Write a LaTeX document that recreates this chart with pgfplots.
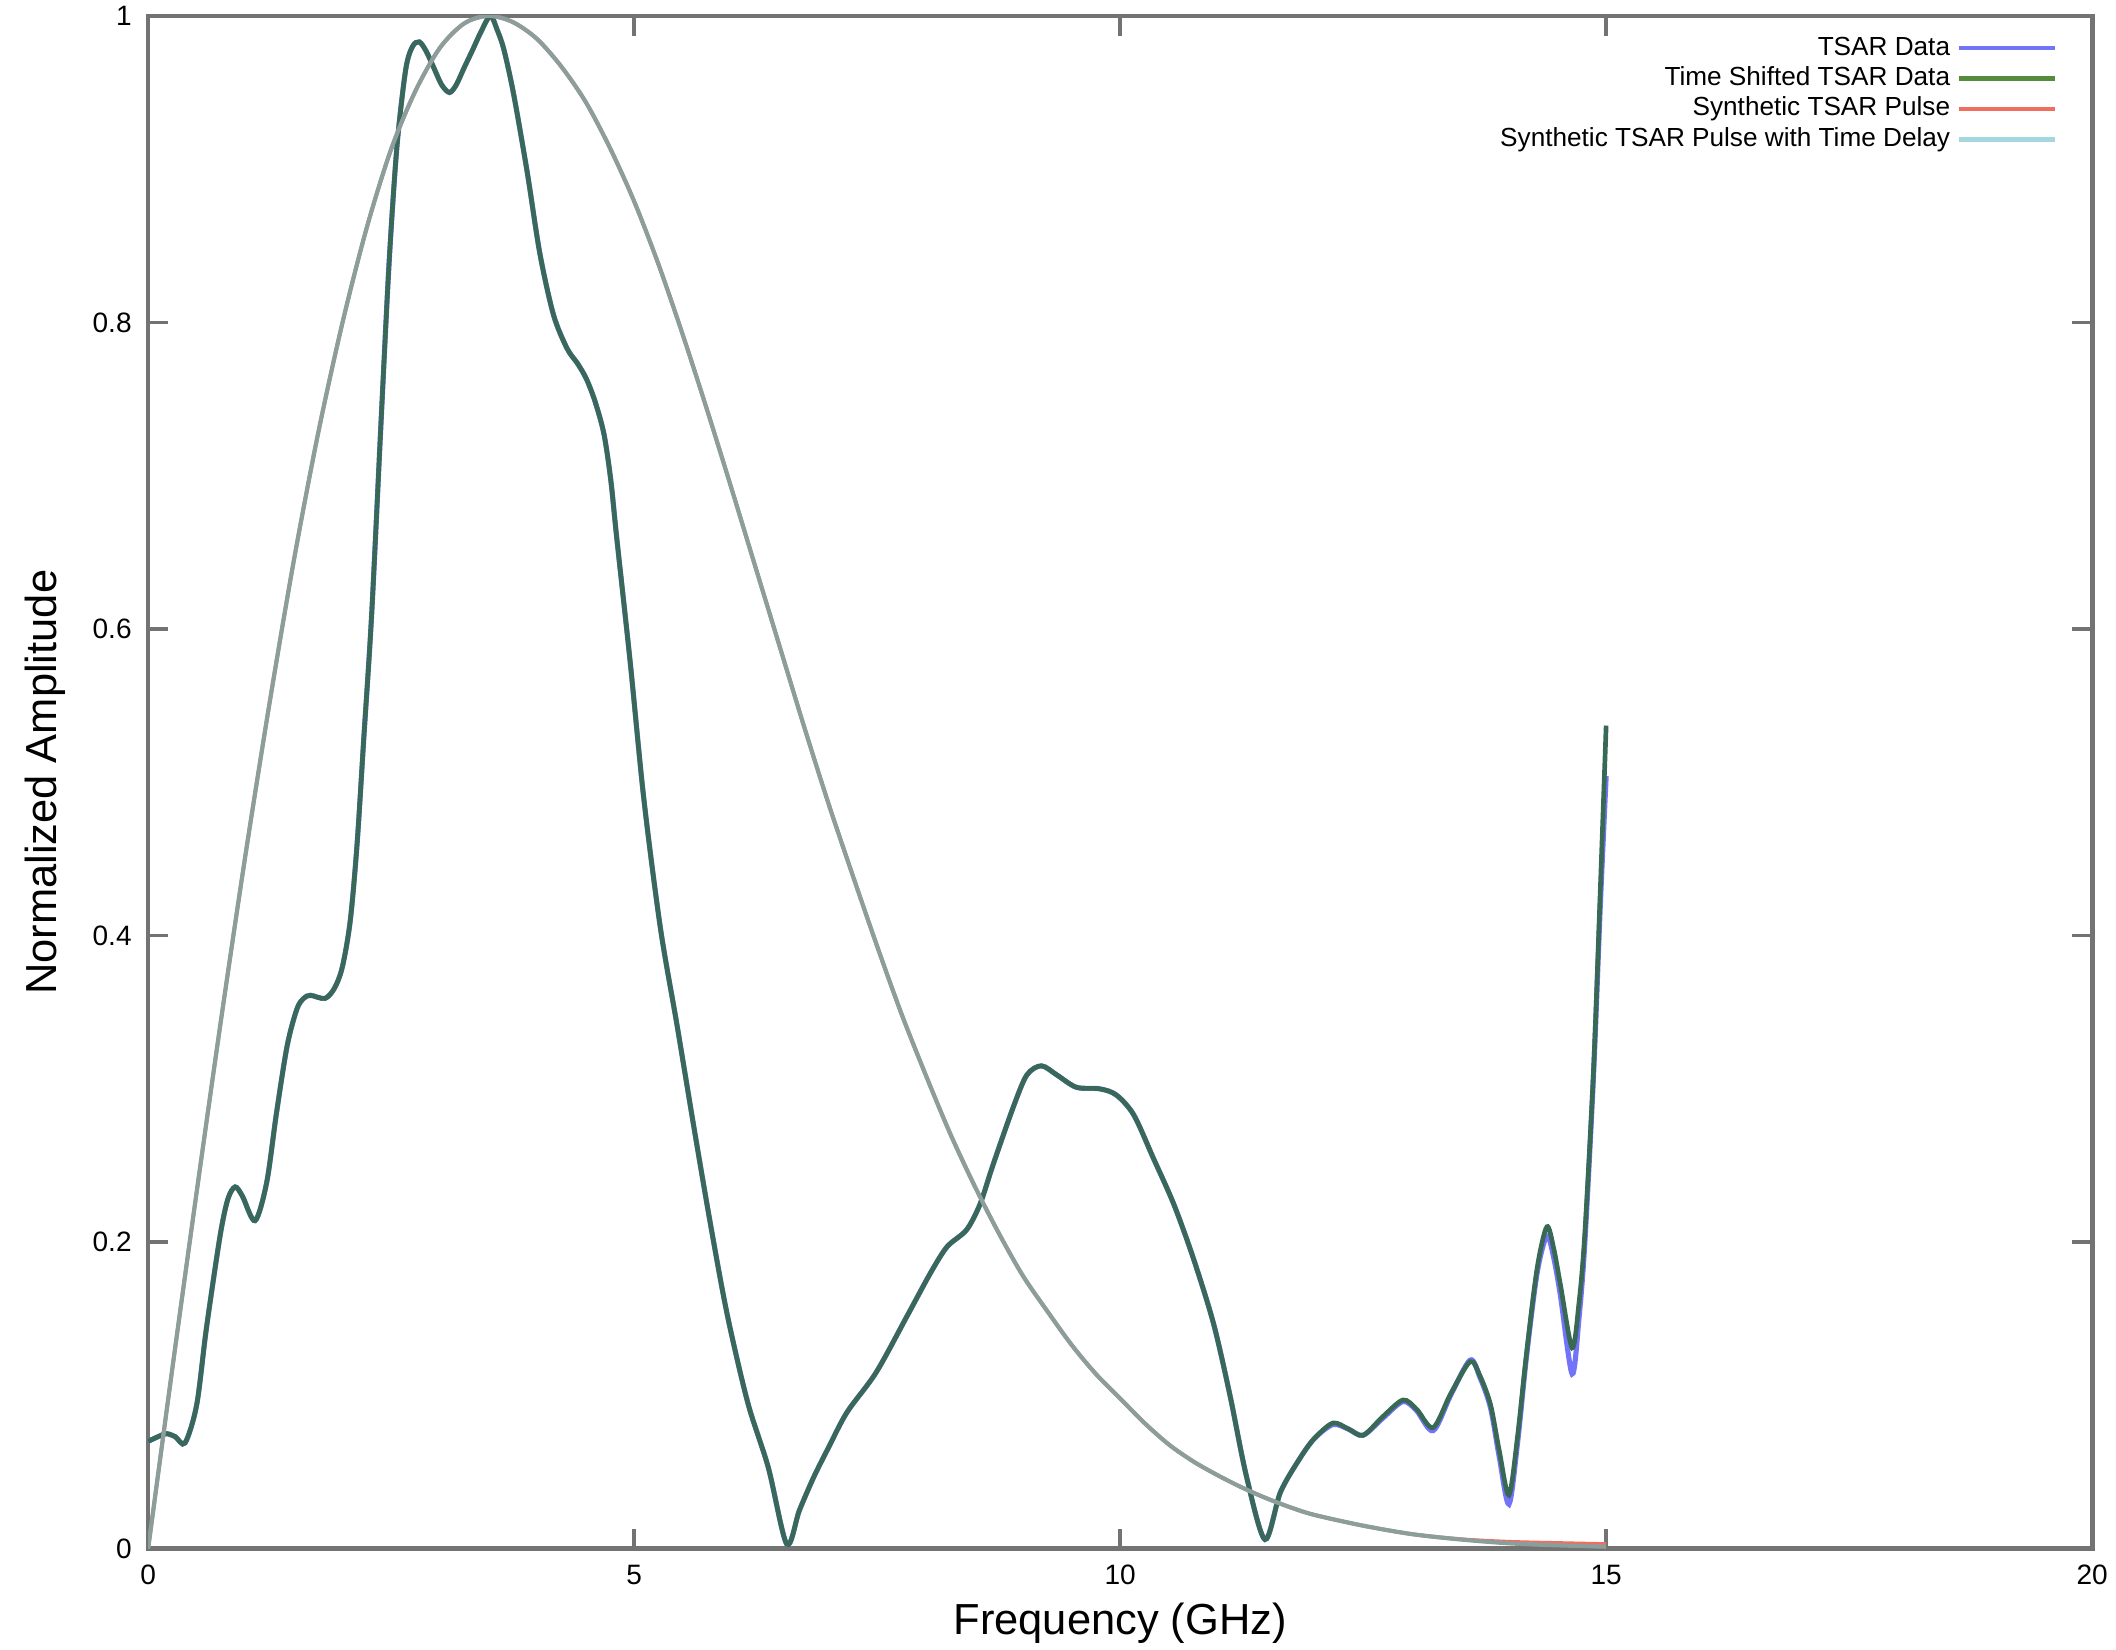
\documentclass[border=0pt]{standalone}
\usepackage{fontspec}
\setmainfont{Liberation Sans}
\usepackage{pgfplots}
\usepackage{pgfplotstable}
\pgfplotsset{compat=1.18}

\definecolor{tsarblue}{RGB}{115,115,250}
\definecolor{tsargreen}{RGB}{85,140,60}
\definecolor{synred}{RGB}{240,110,95}
\definecolor{syncyan}{RGB}{165,215,225}
\definecolor{datadraw}{RGB}{55,105,85}
\definecolor{pulsedraw}{RGB}{140,158,155}
\definecolor{frame}{RGB}{115,115,115}

% frequency (GHz), TSAR data, time shifted TSAR data
\pgfplotstableread{
f      tsar   shifted
0      0.070  0.070
0.10   0.073  0.073
0.19   0.075  0.075
0.28   0.073  0.073
0.38   0.069  0.069
0.50   0.094  0.094
0.60   0.144  0.144
0.74   0.204  0.204
0.82   0.228  0.228
0.895  0.236  0.236
0.97   0.230  0.230
1.10   0.214  0.214
1.22   0.239  0.239
1.32   0.284  0.284
1.43   0.328  0.328
1.53   0.352  0.352
1.60   0.359  0.359
1.67   0.361  0.361
1.82   0.359  0.359
1.92   0.366  0.366
2.00   0.380  0.380
2.08   0.410  0.410
2.15   0.460  0.460
2.22   0.530  0.530
2.30   0.610  0.610
2.40   0.740  0.740
2.48   0.840  0.840
2.56   0.915  0.915
2.65   0.965  0.965
2.72   0.980  0.980
2.79   0.983  0.983
2.86   0.977  0.977
2.94   0.966  0.966
3.02   0.955  0.955
3.10   0.950  0.950
3.17   0.955  0.955
3.25   0.966  0.966
3.34   0.978  0.978
3.42   0.989  0.989
3.52   1.000  1.000
3.59   0.991  0.991
3.66   0.978  0.978
3.76   0.949  0.949
3.90   0.898  0.898
4.03   0.845  0.845
4.17   0.805  0.805
4.31   0.783  0.783
4.42   0.773  0.773
4.51   0.763  0.763
4.60   0.748  0.748
4.69   0.727  0.727
4.76   0.697  0.697
4.82   0.660  0.660
4.96   0.578  0.578
5.10   0.489  0.489
5.27   0.405  0.405
5.44   0.342  0.342
5.62   0.273  0.273
5.79   0.210  0.210
5.96   0.152  0.152
6.17   0.095  0.095
6.38   0.053  0.053
6.57   0.003  0.003
6.70   0.025  0.025
6.85   0.047  0.047
7.00   0.066  0.066
7.19   0.089  0.089
7.49   0.115  0.115
7.81   0.152  0.152
8.05   0.180  0.180
8.22   0.197  0.197
8.42   0.208  0.208
8.56   0.225  0.225
8.69   0.250  0.250
8.90   0.288  0.288
9.04   0.309  0.309
9.19   0.315  0.315
9.35   0.309  0.309
9.55   0.301  0.301
9.79   0.300  0.300
9.96   0.296  0.296
10.14  0.283  0.283
10.34  0.255  0.255
10.55  0.225  0.225
10.75  0.190  0.190
10.96  0.147  0.147
11.13  0.100  0.100
11.30  0.047  0.047
11.49  0.006  0.006
11.65  0.037  0.037
11.85  0.059  0.059
12.00  0.072  0.072
12.19  0.081  0.082
12.35  0.078  0.078
12.50  0.074  0.074
12.70  0.085  0.086
12.91  0.096  0.097
13.05  0.090  0.091
13.22  0.077  0.079
13.40  0.100  0.101
13.60  0.123  0.122
13.70  0.112  0.113
13.81  0.092  0.094
13.90  0.060  0.064
14.00  0.029  0.035
14.09  0.070  0.074
14.18  0.125  0.127
14.29  0.180  0.183
14.39  0.204  0.210
14.46  0.190  0.196
14.53  0.165  0.172
14.65  0.114  0.131
14.72  0.150  0.160
14.78  0.199  0.205
14.87  0.309  0.312
14.94  0.420  0.430
15.00  0.504  0.537
}\tsartable

% frequency (GHz), synthetic pulse, synthetic pulse with time delay
\pgfplotstableread{
f      pulse   delayed
0      0.000   0.000
0.25   0.118   0.118
0.50   0.233   0.233
0.75   0.345   0.345
1.00   0.452   0.452
1.25   0.552   0.552
1.50   0.645   0.645
1.75   0.728   0.728
2.00   0.800   0.800
2.25   0.862   0.862
2.50   0.913   0.913
2.75   0.951   0.951
3.00   0.979   0.979
3.25   0.995   0.995
3.50   1.000   1.000
3.75   0.996   0.996
4.00   0.985   0.985
4.25   0.967   0.967
4.50   0.944   0.944
4.75   0.914   0.914
5.00   0.879   0.879
5.25   0.838   0.838
5.50   0.792   0.792
5.75   0.743   0.743
6.00   0.692   0.692
6.25   0.640   0.640
6.50   0.588   0.588
6.75   0.536   0.536
7.00   0.486   0.486
7.25   0.439   0.439
7.50   0.393   0.393
7.75   0.349   0.349
8.00   0.309   0.309
8.25   0.271   0.271
8.50   0.237   0.237
8.75   0.206   0.206
9.00   0.178   0.178
9.25   0.155   0.155
9.50   0.133   0.133
9.75   0.114   0.114
10.00  0.098   0.098
10.25  0.082   0.082
10.50  0.068   0.068
10.75  0.057   0.057
11.00  0.048   0.048
11.25  0.040   0.040
11.50  0.033   0.033
11.75  0.027   0.027
12.00  0.022   0.022
12.50  0.015   0.015
13.00  0.0095  0.0095
13.50  0.0062  0.0060
14.00  0.0045  0.0035
14.50  0.0037  0.0022
15.00  0.0030  0.0013
}\pulsetable

\begin{document}
\begin{tikzpicture}
\begin{axis}[
  scale only axis,
  width=416pt, height=328pt,
  xmin=0, xmax=20, ymin=0, ymax=1,
  xtick={0,5,10,15,20},
  ytick={0,0.2,0.4,0.6,0.8,1},
  yticklabels={0,0.2,0.4,0.6,0.8,1},
  tick align=inside,
  major tick length=4.3pt,
  tick style={frame, line width=0.8pt},
  axis line style={frame, line width=1pt},
  ticklabel style={font=\fontsize{6}{7}\selectfont},
  /pgf/number format/assume math mode=true,
  xlabel={Frequency (GHz)},
  ylabel={Normalized Amplitude},
  label style={font=\fontsize{9.3}{11}\selectfont},
  xlabel style={at={(axis description cs:0.5,0)}, anchor=center, yshift=-16pt},
  ylabel style={at={(axis description cs:0,0.5)}, anchor=center, yshift=22pt},
  legend plot pos=right,
  legend cell align=right,
  legend image code/.code={\draw[#1] (0pt,0pt) -- (20.5pt,0pt);},
  legend style={at={(axis description cs:1,1)}, anchor=north east,
    xshift=-7.5pt, yshift=-4.2pt, draw=none, fill=none,
    inner sep=0pt, outer sep=0pt,
    font=\fontsize{5.6}{6.5}\selectfont,
    nodes={inner sep=0pt, text height=4.2pt, text depth=1.2pt},
    row sep=1.1pt, column sep=1.4pt},
]
\addplot[forget plot, tsarblue, line width=1.1pt, smooth] table[x=f, y=tsar] {\tsartable};
\addplot[forget plot, datadraw, line width=1.0pt, smooth] table[x=f, y=shifted] {\tsartable};
\addplot[forget plot, synred, line width=0.8pt, smooth] table[x=f, y=pulse] {\pulsetable};
\addplot[forget plot, pulsedraw, line width=0.9pt, smooth] table[x=f, y=delayed] {\pulsetable};

\addlegendimage{tsarblue, line width=1pt}
\addlegendentry{TSAR Data}
\addlegendimage{tsargreen, line width=1pt}
\addlegendentry{Time Shifted TSAR Data}
\addlegendimage{synred, line width=1pt}
\addlegendentry{Synthetic TSAR Pulse}
\addlegendimage{syncyan, line width=1pt}
\addlegendentry{Synthetic TSAR Pulse with Time Delay}
\end{axis}
\pgfresetboundingbox
\path[use as bounding box] ([xshift=-31.7pt,yshift=-21.6pt]current axis.south west)
  rectangle ([xshift=5.1pt,yshift=3.4pt]current axis.north east);
\end{tikzpicture}
\end{document}
